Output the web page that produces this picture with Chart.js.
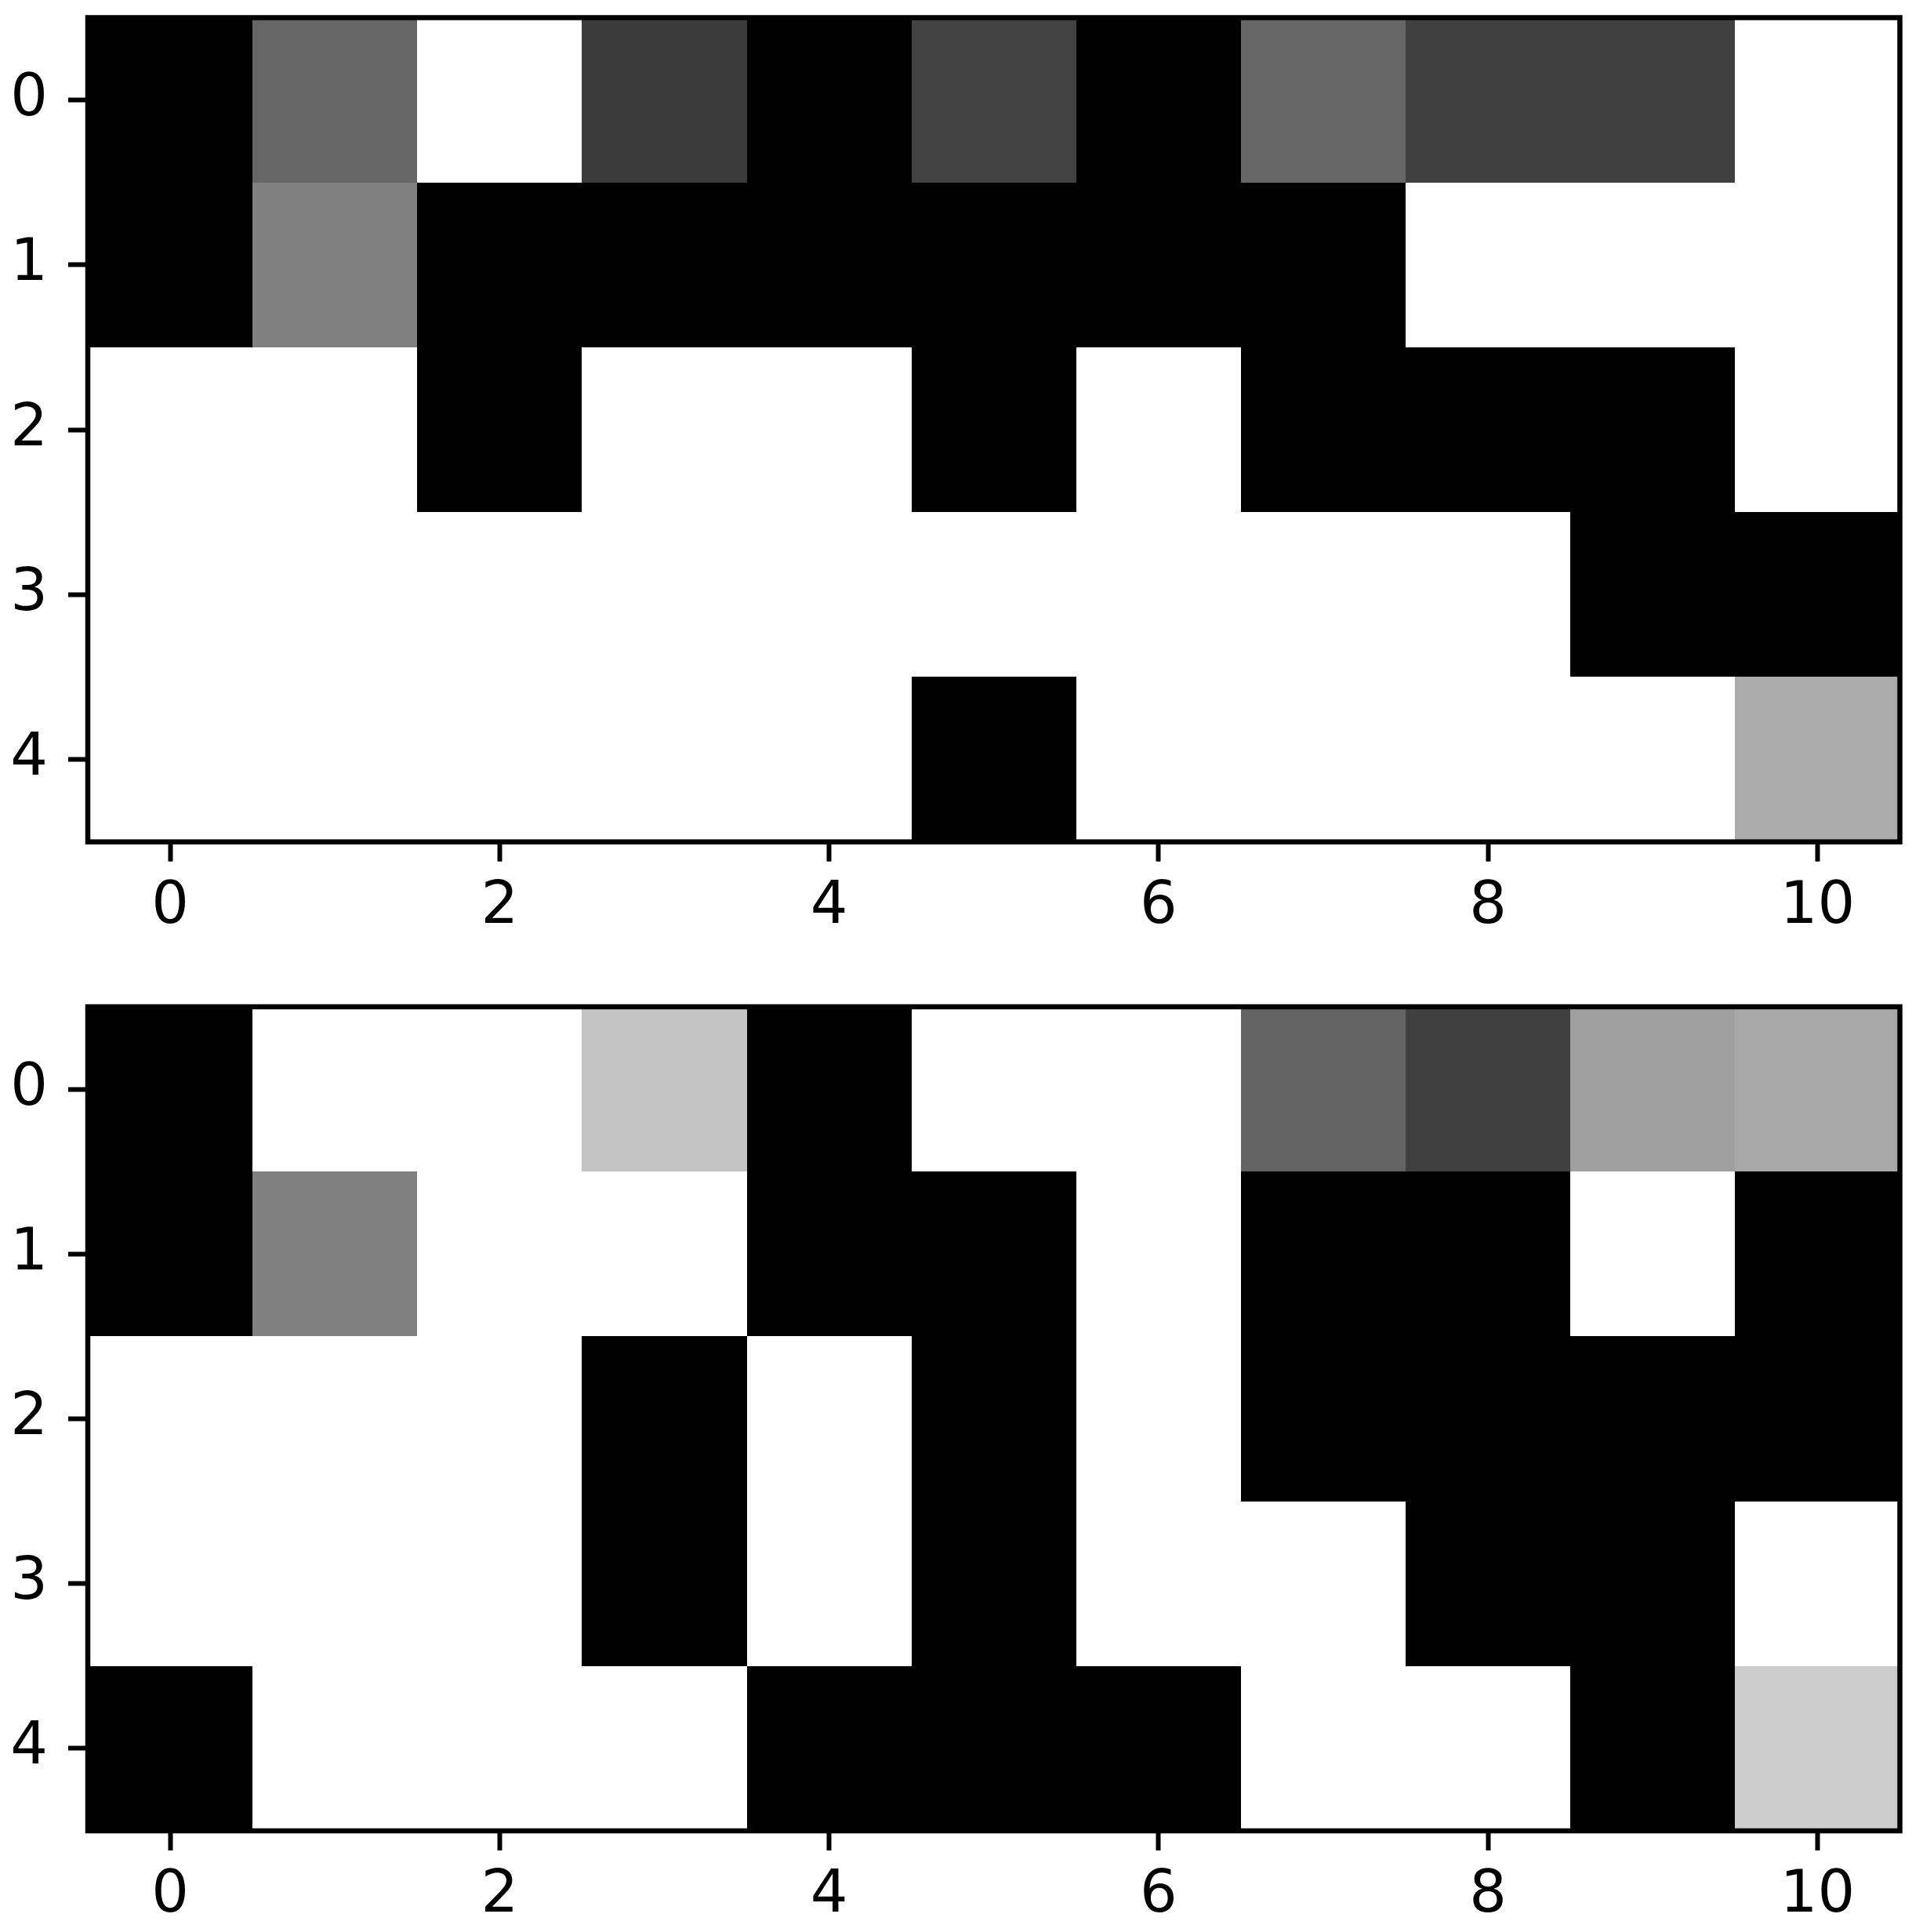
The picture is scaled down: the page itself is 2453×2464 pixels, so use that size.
<!DOCTYPE html>
<html>
<head>
<meta charset="utf-8">
<script src="https://cdn.jsdelivr.net/npm/chart.js@4/dist/chart.umd.min.js"></script>
<style>
  html, body { margin: 0; padding: 0; background: #fff; overflow: hidden; }
  canvas { position: absolute; left: 0; }
</style>
</head>
<body>
<canvas id="topChart" width="2453" height="1260" style="top:-60px"></canvas>
<canvas id="bottomChart" width="2453" height="1264" style="top:1200px"></canvas>
<script>
// gray colormap values, 0 = black, 1 = white; rows top to bottom
var topGrid = [
    [0, 0.4, 1, 0.23, 0, 0.26, 0, 0.405, 0.25, 0.25, 1],
    [0, 0.5, 0, 0, 0, 0, 0, 0, 1, 1, 1],
    [1, 1, 0, 1, 1, 0, 1, 0, 0, 0, 1],
    [1, 1, 1, 1, 1, 1, 1, 1, 1, 0, 0],
    [1, 1, 1, 1, 1, 0, 1, 1, 1, 1, 0.675]
];
var bottomGrid = [
    [0, 1, 1, 0.765, 0, 1, 1, 0.39, 0.25, 0.627, 0.66],
    [0, 0.5, 1, 1, 0, 0, 1, 0, 0, 1, 0],
    [1, 1, 1, 0, 1, 0, 1, 0, 0, 0, 0],
    [1, 1, 1, 0, 1, 0, 1, 1, 0, 0, 1],
    [0, 1, 1, 1, 0, 0, 0, 1, 1, 0, 0.8]
];
var xTicks = [0, 2, 4, 6, 8, 10];
var yTicks = [0, 1, 2, 3, 4];

function toPoints(grid) {
    var pts = [];
    grid.forEach(function (row, r) {
        row.forEach(function (v, c) {
            pts.push({ x: c, y: r, v: v });
        });
    });
    return pts;
}

// draws each cell as a rectangle using the chart scales, then the frame
var cellPlugin = {
    id: 'cells',
    beforeDatasetsDraw: function (chart) {
        var ctx = chart.ctx;
        var xs = chart.scales.x, ys = chart.scales.y;
        chart.data.datasets[0].data.forEach(function (p) {
            var x0 = Math.round(xs.getPixelForValue(p.x - 0.5));
            var x1 = Math.round(xs.getPixelForValue(p.x + 0.5));
            var y0 = Math.round(ys.getPixelForValue(p.y - 0.5));
            var y1 = Math.round(ys.getPixelForValue(p.y + 0.5));
            var g = Math.round(p.v * 255);
            ctx.fillStyle = 'rgb(' + g + ',' + g + ',' + g + ')';
            ctx.fillRect(Math.min(x0, x1), Math.min(y0, y1), Math.abs(x1 - x0), Math.abs(y1 - y0));
        });
    },
    afterDatasetsDraw: function (chart) {
        var ctx = chart.ctx, a = chart.chartArea;
        ctx.save();
        ctx.strokeStyle = '#000';
        ctx.lineWidth = 6.5;
        ctx.strokeRect(a.left, a.top, a.right - a.left, a.bottom - a.top);
        ctx.restore();
    }
};

function makeChart(id, grid, padTop, xHeight) {
    var ctx = document.getElementById(id).getContext('2d');
    return new Chart(ctx, {
        type: 'scatter',
        data: {
            datasets: [{
                data: toPoints(grid),
                pointRadius: 0,
                pointHoverRadius: 0
            }]
        },
        options: {
            responsive: false,
            animation: false,
            devicePixelRatio: 1,
            layout: { padding: { top: padTop, right: 29.5, left: 0, bottom: 0 } },
            plugins: { legend: { display: false }, tooltip: { enabled: false } },
            events: [],
            scales: {
                x: {
                    type: 'linear',
                    min: -0.5,
                    max: 10.5,
                    afterBuildTicks: function (s) { s.ticks = xTicks.map(function (v) { return { value: v }; }); },
                    afterFit: function (s) { s.height = xHeight; },
                    grid: { drawOnChartArea: false, drawTicks: true, tickLength: 25, tickWidth: 6, tickColor: '#000' },
                    border: { display: false },
                    ticks: { color: '#000', padding: 14, maxRotation: 0, font: { family: 'DejaVu Sans', size: 75 } }
                },
                y: {
                    type: 'linear',
                    min: -0.5,
                    max: 4.5,
                    reverse: true,
                    afterBuildTicks: function (s) { s.ticks = yTicks.map(function (v) { return { value: v }; }); },
                    afterFit: function (s) { s.width = 112; },
                    grid: { drawOnChartArea: false, drawTicks: true, tickLength: 25, tickWidth: 6, tickColor: '#000' },
                    border: { display: false },
                    ticks: { color: '#000', padding: 26, font: { family: 'DejaVu Sans', size: 75 } }
                }
            }
        },
        plugins: [cellPlugin]
    });
}

makeChart('topChart', topGrid, 82.5, 126.3);
makeChart('bottomChart', bottomGrid, 84, 129);
</script>
</body>
</html>
